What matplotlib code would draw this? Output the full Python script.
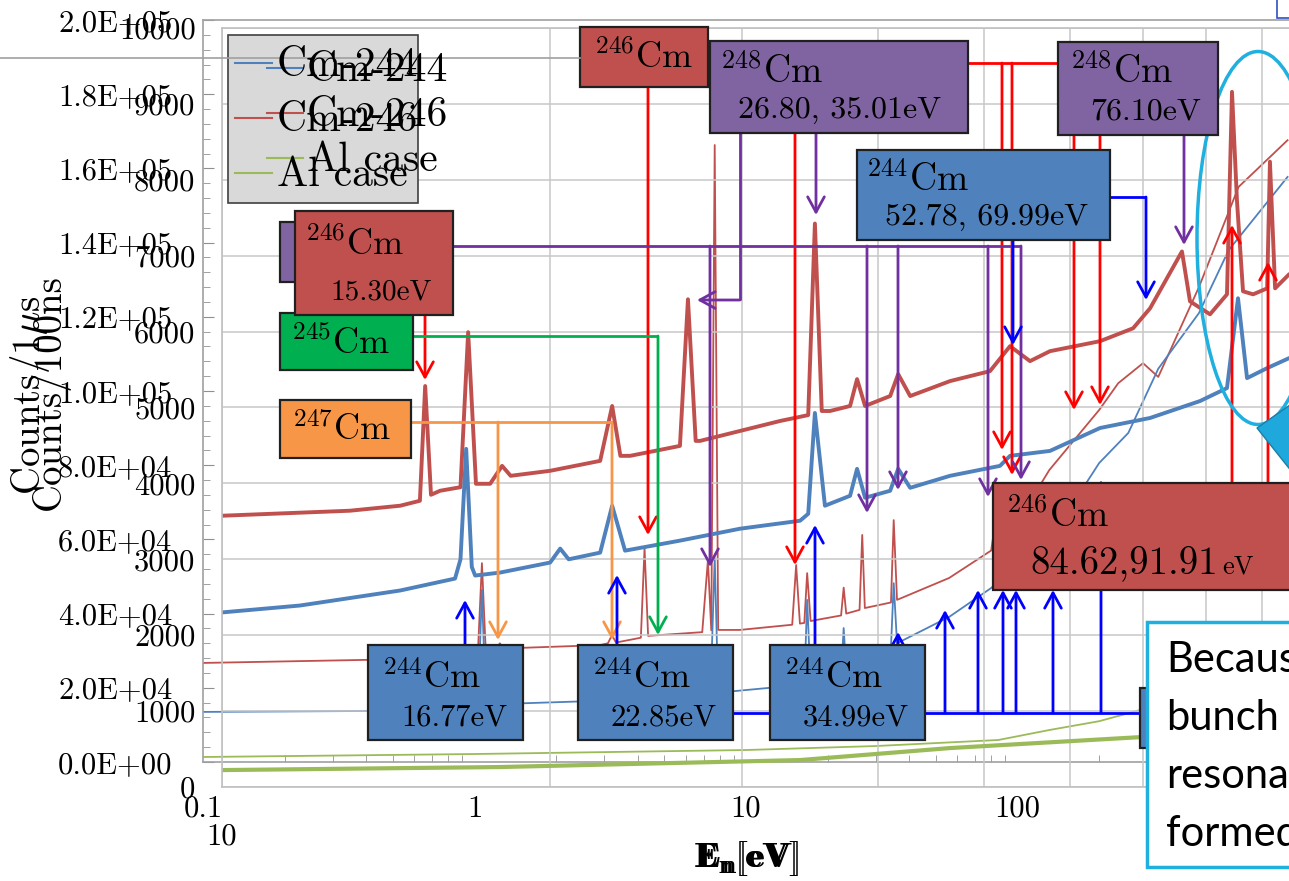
import numpy as np
import matplotlib
matplotlib.use("Agg")
import matplotlib.pyplot as plt
from matplotlib.patches import Rectangle, Ellipse, Polygon
from matplotlib.ticker import FixedLocator, FixedFormatter, LogLocator, NullFormatter

plt.rcParams['mathtext.fontset'] = 'cm'
plt.rcParams['font.family'] = ['cmr10', 'DejaVu Serif']
plt.rcParams['axes.unicode_minus'] = False

#Data : back axis (Counts/1us), thin lines, energy [eV]
cm246_thin_e = [0.10, 0.53, 0.96, 1.03, 1.065, 1.10, 1.20, 1.24, 1.28, 2.90, 3.10, 3.21, 3.32,
                4.10, 4.23, 4.36, 6.90, 7.24, 7.45, 7.67, 7.90, 9.50, 14.8, 15.3, 15.8, 16.4,
                16.8, 17.3, 22.4, 22.9, 23.4, 26.2, 26.8, 27.4, 34.2, 35.0, 36.0, 56.0, 80.0,
                84.6, 89.0, 91.9, 95.0, 131.0, 200.0, 235.0, 290.0, 330.0, 466.0, 652.0, 988.0]
cm246_thin_c = [26700, 27700, 28800, 30000, 53600, 30000, 30500, 32000, 30600, 31500, 32000, 34200, 32200,
                33500, 57700, 34000, 35000, 54400, 35500, 166300, 35600, 35600, 37000, 53100, 37300, 37500,
                50900, 38000, 39500, 47000, 40000, 41000, 61200, 41500, 43000, 65200, 43700, 49600, 57000,
                69300, 60000, 66000, 62000, 78700, 94900, 102100, 107500, 103800, 128000, 155000, 167600]
cm244_thin_e = [0.10, 0.53, 0.96, 1.03, 1.065, 1.10, 2.90, 7.40, 7.67, 7.90, 14.5, 16.4, 16.8, 17.3,
                22.4, 22.9, 23.4, 34.2, 35.0, 36.0, 56.0, 80.0, 86.0, 131.0, 200.0, 256.0, 330.0,
                466.0, 600.0, 988.0]
cm244_thin_c = [13500, 13800, 14500, 15200, 46400, 15500, 16500, 18500, 55000, 18700, 20500, 21000, 43700, 21500,
                23500, 36100, 24500, 31000, 48200, 32000, 39100, 46900, 49000, 59800, 80600, 88700, 106000,
                121000, 138000, 157700]
al_thin_e = [0.1, 1.0, 10.0, 30.0, 85.0, 131.0, 200.0, 282.0, 988.0]
al_thin_c = [1350, 2150, 3230, 4300, 5930, 8620, 11000, 14000, 20000]

#Data : front axis (Counts/100ns), thick lines, energy [eV]
cm246_e = [10.0, 13.10, 14.57, 15.19, 15.36, 15.55, 15.85, 16.55, 16.82, 17.10, 17.62, 18.07, 18.40,
           20.0, 22.23, 22.80, 23.20, 23.68, 26.31, 26.76, 27.20, 27.45, 29.87, 32.50, 34.50, 34.99,
           35.50, 36.13, 37.69, 38.25, 38.90, 41.02, 41.72, 42.79, 46.55, 50.65, 52.84, 55.12, 57.49,
           63.91, 68.53, 71.03, 75.98, 77.28, 80.62, 83.56, 84.45, 85.35, 86.44, 88.30, 90.96, 91.50,
           92.50, 95.26, 100.0]
cm246_c = [3574, 3640, 3706, 3771, 5283, 3850, 3903, 3950, 5992, 3995, 3995, 4231, 4100,
           4166, 4297, 5020, 4363, 4363, 4494, 6426, 4560, 4560, 4691, 4822, 4900, 7424,
           4954, 4954, 5020, 5374, 5020, 5151, 5440, 5151, 5348, 5479, 5808, 5611, 5742,
           5874, 6044, 6307, 7056, 6399, 6228, 6491, 9159, 7713, 6531, 6491, 6570, 8239,
           6570, 6754, 6900]
cm244_e = [10.0, 11.79, 14.57, 16.36, 16.55, 16.75, 16.95, 17.07, 17.99, 20.0, 20.43, 20.80, 22.23,
           22.80, 23.43, 26.31, 29.87, 33.91, 34.50, 34.99, 35.74, 37.69, 38.25, 38.90, 41.02, 41.72,
           42.79, 46.55, 51.73, 52.84, 57.49, 63.91, 71.03, 78.93, 83.56, 85.53, 87.18, 90.96, 95.26, 100.0]
cm244_c = [2300, 2391, 2589, 2746, 3000, 4455, 2900, 2786, 2825, 2957, 3141, 3000, 3088,
           3706, 3114, 3246, 3403, 3508, 3600, 4928, 3706, 3837, 4192, 3811, 3903, 4192,
           3942, 4100, 4231, 4363, 4428, 4730, 4862, 5085, 5256, 6439, 5387, 5519, 5650, 5750]
al_e = [10.0, 17.99, 33.91, 46.55, 69.55, 100.0]
al_c = [223, 263, 355, 513, 657, 800]

back_yticks = [0, 2e4, 4e4, 6e4, 8e4, 1e5, 1.2e5, 1.4e5, 1.6e5, 1.8e5, 2e5]
back_ylabels = ['0.0E+00', '2.0E+04', '4.0E+04', '6.0E+04', '8.0E+04', '1.0E+05',
                '1.2E+05', '1.4E+05', '1.6E+05', '1.8E+05', '2.0E+05']
back_xticks = [0.1, 1, 10, 100]
back_xlabels = ['0.1', '1', '10', '100']
front_yticks = [0, 1000, 2000, 3000, 4000, 5000, 6000, 7000, 8000, 9000, 10000]
front_ylabels = ['0', '1000', '2000', '3000', '4000', '5000', '6000', '7000', '8000', '9000', '10000']
front_xticks = [10]
front_xlabels = ['10']

RED, BLUE, GREEN = '#c0504d', '#4f81bd', '#9bbb59'
W, H = 1289, 881

fig = plt.figure(figsize=(W/100, H/100), dpi=100)

#Back axes
axb = fig.add_axes([203/W, 1-762/H, 1097/W, 742/H])
axb.set_zorder(1)
axb.patch.set_alpha(0)
axb.set_xscale('log')
axb.plot(al_thin_e, al_thin_c, color=GREEN, lw=1.3)
axb.plot(cm246_thin_e, cm246_thin_c, color=RED, lw=1.3)
axb.plot(cm244_thin_e, cm244_thin_c, color=BLUE, lw=1.3)
axb.set_xlim(0.1, 1098)
axb.set_ylim(0, 2e5)
axb.yaxis.set_major_locator(FixedLocator(back_yticks))
axb.yaxis.set_major_formatter(FixedFormatter(back_ylabels))
axb.yaxis.set_minor_locator(FixedLocator(np.arange(0, 200001, 4000)))
axb.xaxis.set_major_locator(FixedLocator(back_xticks))
axb.xaxis.set_major_formatter(FixedFormatter(back_xlabels))
axb.xaxis.set_minor_locator(LogLocator(base=10, subs=np.arange(2, 10)))
axb.xaxis.set_minor_formatter(NullFormatter())
axb.tick_params(which='both', direction='in', color='#909090', labelsize=22)
axb.tick_params(axis='y', which='major', length=8, pad=22)
axb.tick_params(axis='y', which='minor', length=5)
axb.tick_params(axis='x', which='major', length=0, pad=24)
axb.tick_params(axis='x', which='minor', length=5)
for s in axb.spines.values():
    s.set_color('#a0a0a0')
    s.set_linewidth(1.2)

#Front axes
axf = fig.add_axes([222/W, 1-787/H, 1090/W, 759/H])
axf.set_zorder(2)
axf.patch.set_alpha(0)
axf.set_xscale('log')
axf.plot(al_e, al_c, color=GREEN, lw=3.0)
axf.plot(cm246_e, cm246_c, color=RED, lw=2.8)
axf.plot(cm244_e, cm244_c, color=BLUE, lw=2.8)
axf.set_xlim(10, 100)
axf.set_ylim(0, 10000)
axf.yaxis.set_major_locator(FixedLocator(front_yticks))
axf.yaxis.set_major_formatter(FixedFormatter(front_ylabels))
axf.xaxis.set_major_locator(FixedLocator(front_xticks))
axf.xaxis.set_major_formatter(FixedFormatter(front_xlabels))
axf.xaxis.set_minor_locator(LogLocator(base=10, subs=np.arange(2, 10)))
axf.xaxis.set_minor_formatter(NullFormatter())
axf.tick_params(which='both', length=0, labelsize=22)
axf.tick_params(axis='y', pad=19)
axf.tick_params(axis='x', pad=26)
axf.grid(True, which='both', axis='x', color='#c8c8c8', lw=1.1)
axf.grid(True, which='major', axis='y', color='#c8c8c8', lw=1.1)
axf.set_axisbelow(True)
for s in axf.spines.values():
    s.set_color('#c0c0c0')
    s.set_linewidth(1.2)

#Overlay for annotations (pixel coordinates)
ov = fig.add_axes([0, 0, 1, 1])
ov.set_zorder(3)
ov.patch.set_alpha(0)
ov.set_xlim(0, W)
ov.set_ylim(H, 0)
ov.axis('off')

def line(xs, ys, c):
    ov.plot(xs, ys, color=c, lw=2, zorder=2, solid_capstyle='butt')

def arrow(x0, y0, x1, y1, c):
    ov.annotate('', xy=(x1, y1), xytext=(x0, y0), zorder=2,
                arrowprops=dict(arrowstyle='->,head_length=0.55,head_width=0.3', color=c, lw=2,
                                shrinkA=0, shrinkB=0, mutation_scale=20))

def box(x0, y0, x1, y1, fc, z=3):
    ov.add_patch(Rectangle((x0, y0), x1-x0, y1-y0, fc=fc, ec='#202020', lw=1.6, zorder=z))

def label(x, y, s, size, z=4):
    ov.text(x, y, s, fontsize=size, ha='left', va='center', zorder=z)

PR, PP, PB, PG, PO = '#ff0000', '#7030a0', '#0000ff', '#00b050', '#f79646'

#red lines
arrow(648, 87, 648, 535, PR)
line([705, 1100], [63, 63], PR)
arrow(795, 63, 795, 565, PR)
arrow(1002, 63, 1002, 450, PR)
arrow(1012, 63, 1012, 475, PR)
arrow(1074, 63, 1074, 410, PR)
arrow(1100, 63, 1100, 405, PR)
arrow(425, 315, 425, 380, PR)
arrow(1232, 483, 1232, 225, PR)
arrow(1268, 483, 1268, 262, PR)
#purple lines
line([453, 1021], [246, 246], PP)
for xp, yp in [(710, 567), (867, 513), (898, 490), (988, 497), (1021, 480)]:
    arrow(xp, 246, xp, yp, PP)
line([740, 740], [133, 300], PP)
arrow(740, 300, 697, 300, PP)
arrow(816, 133, 816, 215, PP)
arrow(1184, 135, 1184, 245, PP)
#green / orange
line([413, 658], [336, 336], PG)
arrow(658, 336, 658, 635, PG)
line([411, 612], [422, 422], PO)
arrow(498, 422, 498, 640, PO)
arrow(612, 422, 612, 640, PO)
#blue lines
arrow(465, 645, 465, 600, PB)
arrow(617, 645, 617, 575, PB)
line([733, 770], [713, 713], PB)
line([925, 1143], [713, 713], PB)
arrow(815, 645, 815, 525, PB)
for xb, yb in [(898, 632), (945, 610), (978, 590), (1003, 590), (1016, 590), (1053, 590), (1101, 480)]:
    arrow(xb, 713, xb, yb, PB)
line([1110, 1146], [197, 197], PB)
arrow(1146, 197, 1146, 300, PB)
arrow(1013, 240, 1013, 345, PB)

#boxes
box(580, 27, 708, 87, RED)
label(594, 57, r'$^{246}$Cm', 26)
box(710, 41, 968, 133, '#8064a2')
label(720, 72, r'$^{248}$Cm', 27)
label(738, 110, '26.80, 35.01eV', 23)
box(1058, 42, 1218, 135, '#8064a2')
label(1070, 72, r'$^{248}$Cm', 27)
label(1090, 112, '76.10eV', 23)
box(857, 150, 1110, 240, BLUE)
label(866, 180, r'$^{244}$Cm', 27)
label(885, 217, '52.78, 69.99eV', 23)
box(280, 222, 330, 282, '#8064a2')
box(280, 313, 413, 370, '#00b050')
label(291, 343, r'$^{245}$Cm', 26)
box(295, 211, 453, 315, RED, z=3.5)
label(305, 244, r'$^{246}$Cm', 26, z=4.5)
label(330, 292, '15.30eV', 21, z=4.5)
box(280, 400, 411, 458, '#f79646')
label(292, 430, r'$^{247}$Cm', 26)
for bx0, txt in [(368, '16.77eV'), (578, '22.85eV'), (770, '34.99eV')]:
    box(bx0, 645, bx0+155, 740, BLUE)
    label(bx0+14, 678, r'$^{244}$Cm', 26)
    label(bx0+33, 718, txt, 22)
box(993, 483, 1300, 590, RED)
label(1006, 516, r'$^{246}$Cm', 27)
ov.text(1030, 574, '84.62,91.91', fontsize=28, ha='left', va='baseline', zorder=4)
ov.text(1222, 574, 'eV', fontsize=19, ha='left', va='baseline', zorder=4)

#ellipse and callout
ov.add_patch(Ellipse((1258, 238), 122, 373, fill=False, ec='#1fb0e0', lw=2.5, zorder=2))
ov.add_patch(Polygon([(1257, 428), (1300, 398), (1300, 482)], closed=True, fc='#1fa8dc',
                     ec='#1a7fa8', lw=1, zorder=5))
box(1140, 688, 1180, 748, BLUE, z=4)
ov.add_patch(Rectangle((1147, 622), 160, 245, fc='white', ec='#1fb0e0', lw=2.5, zorder=6))
for i, s in enumerate(['Because', 'bunch', 'resonance', 'formed']):
    ov.text(1166, 660 + i*58, s, fontsize=30, family=['Lato', 'DejaVu Sans'], ha='left',
            va='center', zorder=7, clip_on=True)
ov.add_patch(Rectangle((1277, -5), 30, 23, fc='white', ec='#3050c0', lw=1.2, zorder=6))

#legend (two overlapping legends)
ov.add_patch(Rectangle((228, 35), 190, 168, fc='#d9d9d9', ec='#404040', lw=1.2, zorder=3))
ov.plot([0, 580], [58, 58], color='#a0a0a0', lw=1.2, zorder=3.5)
names = ['Cm-244', 'Cm-246', 'Al case']
cols = [BLUE, RED, GREEN]
for i in range(3):
    y1 = [63, 118, 173][i]
    y2 = [68, 113, 158][i]
    ov.plot([235, 272], [y1, y1], color=cols[i], lw=1.5, zorder=4)
    ov.plot([267, 303], [y2, y2], color=cols[i], lw=1.5, zorder=4)
    ov.text(277, y1 + 2, names[i], fontsize=30, ha='left', va='center', zorder=4)
    ov.text(307, y2 + 2, names[i], fontsize=30, ha='left', va='center', zorder=4)

#axis titles
ov.text(30, 395, r'Counts/1$\mu$s', fontsize=28, rotation=90, ha='center', va='center')
ov.text(50, 392, 'Counts/100ns', fontsize=28, rotation=90, ha='center', va='center')
ov.text(745, 858, r'$\mathbf{E_n[eV]}$', fontsize=26, ha='center', va='center')
ov.text(748, 859, r'$\mathbf{E_n[eV]}$', fontsize=26, ha='center', va='center')

fig.savefig('out.png', dpi=100)
